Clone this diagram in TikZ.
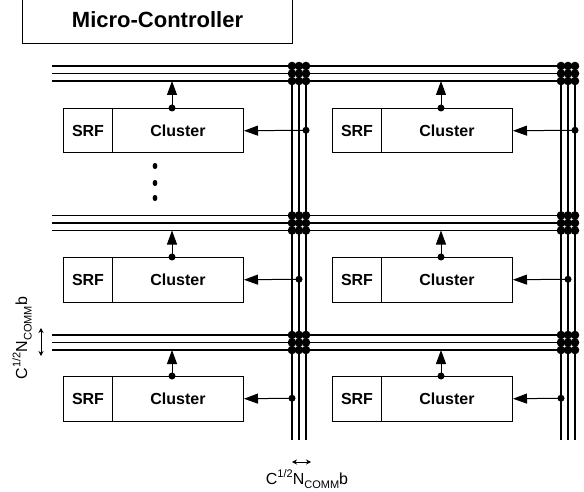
\documentclass[tikz,border=0pt]{standalone}
\usepackage{fontspec}
\setmainfont{Liberation Sans}
\usetikzlibrary{arrows.meta}
\newcommand\ncommlabel{C\raisebox{0.42em}{\fontsize{11}{11}\selectfont 1/2}N\raisebox{-0.28em}{\fontsize{11}{11}\selectfont COMM}b}
\begin{document}
\begin{tikzpicture}[x=1pt,y=-1pt,
  bus/.style={line width=1.6pt},
  blk/.style={draw, line width=1pt, minimum height=44.5pt, inner sep=0pt, anchor=north west, font=\bfseries\fontsize{16}{16}\selectfont},
  srfbox/.style={blk, minimum width=49pt},
  clbox/.style={blk, minimum width=131pt},
  conn/.style={line width=1pt, -{Triangle[length=14pt,width=10pt]}},
  jdot/.style={circle, fill, inner sep=0pt, minimum size=7pt},
  dim/.style={line width=0.8pt, {Stealth[length=5pt,width=5pt]}-{Stealth[length=5pt,width=5pt]}},
  annot/.style={font=\fontsize{16}{16}\selectfont, inner sep=0pt}]
\useasboundingbox (0,0) rectangle (584,492);

% micro-controller
\node[draw, line width=1pt, minimum width=270pt, minimum height=48pt, anchor=south west,
  font=\bfseries\fontsize{22}{22}\selectfont] (mc) at (22,44) {Micro-Controller};

% buses
\foreach \y in {66,73.5,81,215.5,223,230.5,335,342.5,350}
  \draw[bus] (52,\y) -- (575,\y);
\foreach \x in {292,299,306,561,568,575}
  \draw[bus] (\x,66) -- (\x,440);
\foreach \x in {292,299,306,561,568,575}
  \foreach \y in {66,73.5,81,215.5,223,230.5,335,342.5,350}
    \fill (\x,\y) circle (4.3);

% clusters
\node[srfbox] (s1) at (63,108) {SRF};
\node[clbox]  (c1) at (112,108) {Cluster};
\node[srfbox] (s2) at (332,108) {SRF};
\node[clbox]  (c2) at (381,108) {Cluster};
\node[srfbox] (s3) at (63,257) {SRF};
\node[clbox]  (c3) at (112,257) {Cluster};
\node[srfbox] (s4) at (332,257) {SRF};
\node[clbox]  (c4) at (381,257) {Cluster};
\node[srfbox] (s5) at (63,376) {SRF};
\node[clbox]  (c5) at (112,376) {Cluster};
\node[srfbox] (s6) at (332,376) {SRF};
\node[clbox]  (c6) at (381,376) {Cluster};

% up connectors
\node[jdot] (u1) at (172,108) {}; \coordinate (t1) at (172,81);
\node[jdot] (u2) at (441,108) {}; \coordinate (t2) at (441,81);
\node[jdot] (u3) at (172,257) {}; \coordinate (t3) at (172,230.5);
\node[jdot] (u4) at (441,257) {}; \coordinate (t4) at (441,230.5);
\node[jdot] (u5) at (172,376) {}; \coordinate (t5) at (172,350);
\node[jdot] (u6) at (441,376) {}; \coordinate (t6) at (441,350);
\foreach \i in {1,...,6} \draw[conn] (u\i.center) -- (t\i);

% side connectors
\node[jdot] (h1) at (306,130.25) {};
\node[jdot] (h2) at (575,130.25) {};
\node[jdot] (h3) at (299,279.25) {};
\node[jdot] (h4) at (568,279.25) {};
\node[jdot] (h5) at (292,398.25) {};
\node[jdot] (h6) at (561,398.25) {};
\foreach \i in {1,...,6} \draw[conn] (h\i.center) -- (c\i.east);

% ellipsis dots
\foreach \y in {166,183,198} \fill (155,\y) ellipse (2.4 and 3.1);

% annotations
\coordinate (la) at (41,328); \coordinate (lb) at (41,356);
\draw[dim] (la) -- (lb);
\node[annot, rotate=90] (lt) at (22,338) {\ncommlabel};
\coordinate (ba) at (292,462); \coordinate (bb) at (311,462);
\draw[dim] (ba) -- (bb);
\node[annot] (bt) at (307,479) {\ncommlabel};
\end{tikzpicture}
\end{document}
